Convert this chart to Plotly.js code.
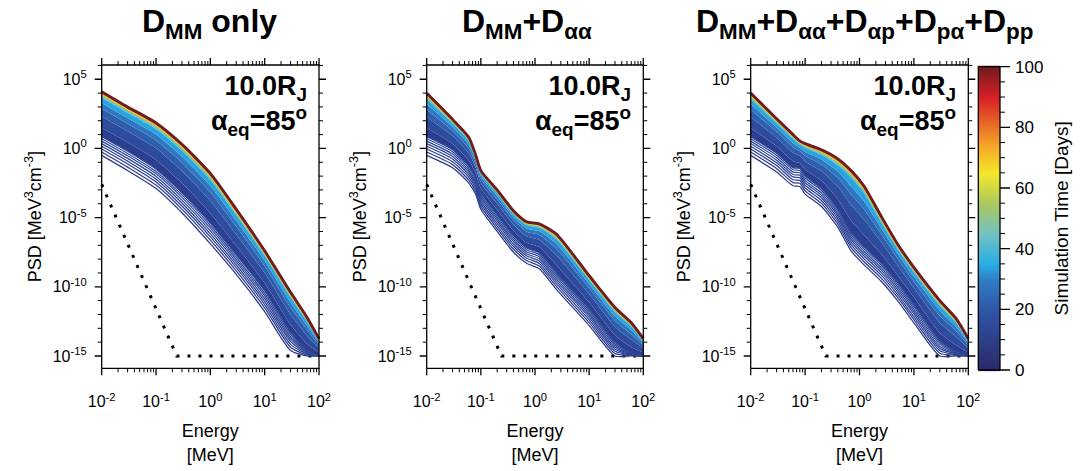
<!DOCTYPE html>
<html><head><meta charset="utf-8">
<script src="https://cdn.plot.ly/plotly-3.0.1.min.js"></script>
<style>html,body{margin:0;padding:0;background:#fff}#chart{width:1088px;height:471px}</style>
</head><body><div id="chart"></div>
<script>
// Simulation day of each plotted curve (rows of the PSD tables below)
const days = [0,1,2,3,4,5,6,7,10,16,22,28,34,42,55,70,85,100];

// Values are log10(PSD [MeV^3 cm^-3])
// Panel 1: D_MM only
const energy1 = [0.01,0.03,0.1,0.3,1,3,10,30,60,100];
const logPsd1 = [
 [-0.5,-1.6,-2.9,-4.65,-6.9,-9.1,-11.8,-14.6,-15,-15],
 [-0.26,-1.35,-2.65,-4.39,-6.63,-8.85,-11.53,-14.37,-14.93,-15],
 [-0.04,-1.12,-2.42,-4.16,-6.39,-8.62,-11.29,-14.16,-14.86,-15],
 [0.16,-0.92,-2.22,-3.94,-6.17,-8.42,-11.07,-13.96,-14.8,-15],
 [0.35,-0.72,-2.02,-3.74,-5.96,-8.22,-10.86,-13.78,-14.75,-15],
 [0.53,-0.53,-1.83,-3.54,-5.76,-8.03,-10.66,-13.61,-14.69,-15],
 [0.70,-0.36,-1.66,-3.36,-5.57,-7.86,-10.47,-13.44,-14.64,-15],
 [0.85,-0.2,-1.5,-3.2,-5.4,-7.7,-10.3,-13.3,-14.6,-15],
 [1.5,0.44,-0.83,-2.5,-4.68,-7.04,-9.72,-12.72,-14.12,-14.75],
 [2.31,1.24,0.01,-1.63,-3.78,-6.22,-9.0,-12.0,-13.52,-14.44],
 [2.86,1.78,0.58,-1.03,-3.17,-5.65,-8.5,-11.5,-13.11,-14.23],
 [3.29,2.2,1.01,-0.58,-2.7,-5.23,-8.13,-11.13,-12.8,-14.06],
 [3.58,2.49,1.31,-0.26,-2.38,-4.93,-7.86,-10.86,-12.58,-13.95],
 [3.74,2.65,1.48,-0.09,-2.2,-4.76,-7.72,-10.72,-12.46,-13.89],
 [3.86,2.76,1.6,0.04,-2.07,-4.65,-7.62,-10.62,-12.38,-13.84],
 [3.95,2.86,1.7,0.14,-1.96,-4.55,-7.53,-10.53,-12.31,-13.81],
 [4.03,2.94,1.78,0.23,-1.87,-4.47,-7.46,-10.46,-12.25,-13.78],
 [4.1,3.0,1.85,0.3,-1.8,-4.4,-7.4,-10.4,-12.2,-13.75]
];

// Panel 2: D_MM + D_aa
const energy2 = [0.01,0.03,0.06,0.08,0.1,0.2,0.4,0.7,1.2,2.5,10,30,60,100];
const logPsd2 = [
 [-0.5,-1.4,-2.5,-3.3,-4.4,-6.0,-7.5,-8.3,-8.7,-10.2,-12.8,-15,-15,-15],
 [-0.26,-1.17,-2.29,-3.09,-4.19,-5.79,-7.29,-8.1,-8.5,-9.99,-12.59,-14.82,-14.96,-15],
 [-0.04,-0.96,-2.09,-2.89,-3.99,-5.59,-7.09,-7.92,-8.31,-9.79,-12.39,-14.66,-14.93,-15],
 [0.16,-0.76,-1.91,-2.71,-3.81,-5.41,-6.91,-7.76,-8.14,-9.61,-12.21,-14.51,-14.9,-15],
 [0.35,-0.58,-1.74,-2.54,-3.64,-5.24,-6.74,-7.61,-7.98,-9.44,-12.04,-14.37,-14.87,-15],
 [0.53,-0.41,-1.58,-2.38,-3.48,-5.08,-6.58,-7.46,-7.82,-9.28,-11.88,-14.24,-14.85,-15],
 [0.70,-0.24,-1.43,-2.23,-3.33,-4.93,-6.43,-7.32,-7.68,-9.13,-11.73,-14.11,-14.82,-15],
 [0.85,-0.1,-1.3,-2.1,-3.2,-4.8,-6.3,-7.2,-7.55,-9.0,-11.6,-14.0,-14.8,-15],
 [1.48,0.34,-0.88,-1.77,-2.88,-4.44,-5.94,-6.82,-7.13,-8.44,-11.12,-13.5,-14.36,-14.75],
 [2.27,0.89,-0.36,-1.36,-2.48,-3.99,-5.49,-6.35,-6.61,-7.74,-10.52,-12.88,-13.81,-14.44],
 [2.8,1.26,0.0,-1.08,-2.21,-3.68,-5.18,-6.02,-6.25,-7.26,-10.11,-12.45,-13.44,-14.23],
 [3.21,1.55,0.27,-0.86,-2.0,-3.45,-4.95,-5.78,-5.98,-6.9,-9.8,-12.13,-13.15,-14.06],
 [3.5,1.75,0.46,-0.71,-1.86,-3.29,-4.79,-5.6,-5.79,-6.65,-9.58,-11.9,-12.95,-13.95],
 [3.65,1.86,0.57,-0.63,-1.78,-3.2,-4.7,-5.51,-5.68,-6.51,-9.46,-11.78,-12.84,-13.89],
 [3.76,1.93,0.64,-0.57,-1.72,-3.14,-4.64,-5.44,-5.61,-6.41,-9.38,-11.69,-12.77,-13.84],
 [3.86,2.0,0.71,-0.52,-1.67,-3.08,-4.58,-5.39,-5.54,-6.33,-9.31,-11.61,-12.7,-13.81],
 [3.94,2.06,0.76,-0.48,-1.63,-3.04,-4.54,-5.34,-5.49,-6.26,-9.25,-11.55,-12.64,-13.78],
 [4.0,2.1,0.8,-0.45,-1.6,-3.0,-4.5,-5.3,-5.45,-6.2,-9.2,-11.5,-12.6,-13.75]
];

// Panel 3: D_MM + D_aa + D_ap + D_pa + D_pp
const energy3 = [0.01,0.03,0.06,0.08,0.1,0.2,0.4,0.7,1.2,2.5,5,10,30,60,100];
const logPsd3 = [
 [-0.5,-1.7,-2.7,-2.75,-3.3,-4.2,-5.7,-7.4,-8.4,-9.6,-11.0,-12.6,-15,-15,-15],
 [-0.26,-1.46,-2.47,-2.52,-3.07,-3.97,-5.47,-7.17,-8.17,-9.37,-10.77,-12.37,-14.8,-14.95,-15],
 [-0.04,-1.24,-2.26,-2.31,-2.86,-3.76,-5.26,-6.96,-7.96,-9.16,-10.56,-12.16,-14.62,-14.9,-15],
 [0.16,-1.04,-2.06,-2.11,-2.66,-3.56,-5.06,-6.76,-7.76,-8.96,-10.36,-11.96,-14.46,-14.85,-15],
 [0.35,-0.85,-1.88,-1.93,-2.48,-3.38,-4.88,-6.58,-7.58,-8.78,-10.18,-11.78,-14.31,-14.81,-15],
 [0.53,-0.67,-1.71,-1.76,-2.31,-3.21,-4.71,-6.41,-7.41,-8.61,-10.01,-11.61,-14.16,-14.77,-15],
 [0.70,-0.5,-1.54,-1.59,-2.14,-3.04,-4.54,-6.24,-7.24,-8.44,-9.84,-11.44,-14.02,-14.73,-15],
 [0.85,-0.35,-1.4,-1.45,-2.0,-2.9,-4.4,-6.1,-7.1,-8.3,-9.7,-11.3,-13.9,-14.7,-15],
 [1.48,0.15,-0.92,-1.05,-1.53,-2.34,-3.67,-5.2,-6.22,-7.62,-9.14,-10.76,-13.32,-14.22,-14.75],
 [2.27,0.77,-0.32,-0.55,-0.94,-1.64,-2.76,-4.08,-5.12,-6.77,-8.44,-10.09,-12.6,-13.62,-14.44],
 [2.8,1.2,0.09,-0.21,-0.54,-1.16,-2.14,-3.31,-4.37,-6.19,-7.96,-9.63,-12.1,-13.21,-14.23],
 [3.21,1.52,0.4,0.05,-0.24,-0.8,-1.66,-2.73,-3.8,-5.75,-7.6,-9.28,-11.73,-12.9,-14.06],
 [3.5,1.73,0.6,0.21,-0.03,-0.55,-1.3,-2.2,-3.3,-5.45,-7.35,-9.03,-11.46,-12.68,-13.95],
 [3.65,1.87,0.73,0.33,0.09,-0.41,-1.13,-2.02,-3.12,-5.27,-7.21,-8.9,-11.32,-12.56,-13.89],
 [3.76,1.96,0.82,0.4,0.17,-0.31,-1.01,-1.89,-2.99,-5.16,-7.11,-8.8,-11.22,-12.48,-13.84],
 [3.86,2.04,0.89,0.46,0.25,-0.22,-0.9,-1.77,-2.87,-5.05,-7.02,-8.72,-11.13,-12.41,-13.81],
 [3.94,2.1,0.95,0.51,0.3,-0.15,-0.82,-1.68,-2.78,-4.97,-6.95,-8.65,-11.06,-12.35,-13.78],
 [4.0,2.15,1.0,0.55,0.35,-0.1,-0.75,-1.6,-2.7,-4.9,-6.9,-8.6,-11.0,-12.3,-13.75]
];

// Dotted reference line (same in all panels)
const dotEnergy = [0.01,0.24,100];
const dotPsd = [2.5e-3,1e-15,1e-15];

// Tick labels
const xTickVals = [0.01,0.1,1,10,100];
const xTickText = ['10<sup>-2</sup>','10<sup>-1</sup>','10<sup>0</sup>','10<sup>1</sup>','10<sup>2</sup>'];
const yTickVals = [1e-15,1e-10,1e-5,1,1e5];
const yTickText = ['10<sup>-15</sup>','10<sup>-10</sup>','10<sup>-5</sup>','10<sup>0</sup>','10<sup>5</sup>'];
const cbTickVals = [0,20,40,60,80,100];   // colour-bar days
const panelTitles = ['<b>D<sub>MM</sub> only</b>','<b>D<sub>MM</sub>+D<sub>αα</sub></b>','<b>D<sub>MM</sub>+D<sub>αα</sub>+D<sub>αp</sub>+D<sub>pα</sub>+D<sub>pp</sub></b>'];
const caseLabel = '<b>10.0R<sub>J</sub><br>α<sub>eq</sub>=85<sup>o</sup></b>';

// ---------------- styling / drawing ----------------
const stops = [[0,'#2b2a6b'],[0.1,'#2d3d8f'],[0.2,'#2f56a7'],[0.3,'#2f7fc6'],[0.35,'#28ade6'],[0.4,'#5cc3dd'],[0.45,'#74c2c3'],[0.5,'#8cc49a'],[0.55,'#aac85e'],[0.6,'#cbd43a'],[0.65,'#f4e82a'],[0.7,'#f7c424'],[0.75,'#f49f27'],[0.8,'#ed6a2b'],[0.85,'#e43327'],[0.9,'#d81f26'],[0.95,'#a81d22'],[1,'#6f1c1e']];
const barScale = [[0,'#2b2a6b'],[0.2,'#2f56a7'],[0.3,'#2f7fc6'],[0.35,'#28ade6'],[0.45,'#74c2c3'],[0.55,'#aac85e'],[0.65,'#f4e82a'],[0.75,'#f49f27'],[0.9,'#d81f26'],[1,'#6f1c1e']];
function hex2rgb(h){return [parseInt(h.slice(1,3),16),parseInt(h.slice(3,5),16),parseInt(h.slice(5,7),16)];}
function cmap(d){
  const t=Math.max(0,Math.min(1,d/100));
  for(let i=1;i<stops.length;i++){
    if(t<=stops[i][0]){
      const a=stops[i-1],b=stops[i];const f=(t-a[0])/(b[0]-a[0]);
      const ca=hex2rgb(a[1]),cb=hex2rgb(b[1]);
      return 'rgb('+ca.map((v,k)=>Math.round(v+(cb[k]-v)*f)).join(',')+')';
    }
  }
  return stops[stops.length-1][1];
}

// page geometry (pixels) of the framed plot boxes
const W=1088,H=471,PAD=10;
const boxX=[[101.7,319],[426.7,643.3],[750.7,968.3]];
const boxTop=65, boxBottom=368.3;
const logYRange=[-15.89,6.03];
const yDecPx=(boxBottom-boxTop)/(logYRange[1]-logYRange[0]);

const panels=[
  {xa:'x',ya:'y',E:energy1,P:logPsd1},
  {xa:'x2',ya:'y2',E:energy2,P:logPsd2},
  {xa:'x3',ya:'y3',E:energy3,P:logPsd3}
];
const traces=[];
panels.forEach(p=>{
  traces.push({type:'scatter',mode:'lines',x:dotEnergy,y:dotPsd,xaxis:p.xa,yaxis:p.ya,
    line:{color:'#000',width:3,dash:'3px,8px'},hoverinfo:'skip',showlegend:false});
  p.P.forEach((row,i)=>{
    const d=days[i];
    const t={type:'scatter',mode:'lines',x:p.E,y:row.map(v=>Math.pow(10,v)),xaxis:p.xa,yaxis:p.ya,
      hoverinfo:'skip',showlegend:false,line:{shape:'spline',smoothing:0.6,color:cmap(d),width:1.3}};
    if(d<=7){ t.line.color=cmap(9+d); t.line.width=1.25; }
    else {
      t.fill='tonexty'; t.fillcolor=cmap(d);
      t.line.width=(d===100?2.8:(d===85?1.6:(d>=34?1.3:0)));
    }
    traces.push(t);
  });
});
// colour bar drawn as a small heatmap of simulation days on its own axes
traces.push({type:'heatmap',x:[0,1],y:cbTickVals,z:cbTickVals.map(v=>[v,v]),xaxis:'x4',yaxis:'y4',
  colorscale:barScale,zmin:0,zmax:100,zsmooth:'best',showscale:false,hoverinfo:'skip'});

const xMinor=[];[0.01,0.1,1,10].forEach(b=>{for(let k=2;k<=9;k++)xMinor.push(b*k);});
const yMinor=[];for(let e=-15;e<=6;e++){if(e%5!==0)yMinor.push(Math.pow(10,e));}

// frame + outward ticks of each panel, drawn on the panel's own axes
function seg(o,x0,x1,y0,y1){o.x.push(x0,x1,null);o.y.push(y0,y1,null);}
boxX.forEach((bx,i)=>{
  const p=panels[i], decPx=(bx[1]-bx[0])/4, f=v=>Math.pow(10,v);
  const X0=0.01,X1=100,Y0=f(logYRange[0]),Y1=f(logYRange[1]);
  const xl=f(7/decPx), xm=f(4/decPx), yl=f(7/yDecPx), ym=f(4/yDecPx);
  const maj={x:[],y:[]}, mnr={x:[],y:[]};
  xTickVals.forEach(v=>{seg(maj,v,v,Y0,Y0/yl);seg(maj,v,v,Y1,Y1*yl);});
  xMinor.forEach(v=>{seg(mnr,v,v,Y0,Y0/ym);seg(mnr,v,v,Y1,Y1*ym);});
  yTickVals.forEach(v=>{seg(maj,X0,X0/xl,v,v);seg(maj,X1,X1*xl,v,v);});
  yMinor.forEach(v=>{seg(mnr,X0,X0/xm,v,v);seg(mnr,X1,X1*xm,v,v);});
  const base={type:'scatter',mode:'lines',xaxis:p.xa,yaxis:p.ya,hoverinfo:'skip',showlegend:false};
  traces.push(Object.assign({},base,{x:[X0,X1,X1,X0,X0],y:[Y0,Y0,Y1,Y1,Y0],line:{color:'#000',width:1.3}}));
  traces.push(Object.assign({},base,{x:maj.x,y:maj.y,line:{color:'#000',width:1.3}}));
  traces.push(Object.assign({},base,{x:mnr.x,y:mnr.y,line:{color:'#000',width:1}}));
});
// colour-bar frame and ticks on an overlay subplot measured in pixels (x) and days (y)
(function(){
  const cb={x:[],y:[]}, cbm={x:[],y:[]};
  cbTickVals.forEach(v=>seg(cb,23.7,33.7,v,v));
  for(let v=5;v<100;v+=5){ if(v%20!==0) seg(cbm,23.7,28.7,v,v); }
  const base={type:'scatter',mode:'lines',xaxis:'x5',yaxis:'y5',hoverinfo:'skip',showlegend:false};
  traces.push(Object.assign({},base,{x:[2,23.7,23.7,2,2],y:[0,0,100,100,0],line:{color:'#000',width:1.3}}));
  traces.push(Object.assign({},base,{x:cb.x,y:cb.y,line:{color:'#000',width:1.3}}));
  traces.push(Object.assign({},base,{x:cbm.x,y:cbm.y,line:{color:'#000',width:1}}));
})();

const yDom=[(H-(boxBottom+PAD))/H,(H-(boxTop-PAD))/H];
const yRange=[logYRange[0]-PAD/yDecPx,logYRange[1]+PAD/yDecPx];
function xax(bx,anchor){const decPx=(bx[1]-bx[0])/4;
  return {type:'log',domain:[(bx[0]-PAD)/W,(bx[1]+PAD)/W],anchor:anchor,range:[-2-PAD/decPx,2+PAD/decPx],
  showline:false,ticks:'',showgrid:false,zeroline:false,
  tickmode:'array',tickvals:xTickVals,ticktext:xTickText,
  tickfont:{size:16},ticklabelstandoff:12,
  title:{text:'Energy<br>[MeV]',font:{size:18},standoff:15}};}
function yax(anchor){return {type:'log',domain:yDom,anchor:anchor,range:yRange,
  showline:false,ticks:'',showgrid:false,zeroline:false,
  tickmode:'array',tickvals:yTickVals,ticktext:yTickText,
  tickfont:{size:16},ticklabelstandoff:4,
  title:{text:'PSD [MeV<sup>3</sup>cm<sup>-3</sup>]',font:{size:18},standoff:6}};}

const titleCenters=[209/W,527/W,864/W];
const annotations=[];
boxX.forEach((bx,i)=>{
  annotations.push({xref:'paper',yref:'paper',x:titleCenters[i],y:(H-24)/H,xanchor:'center',yanchor:'middle',
    text:panelTitles[i],showarrow:false,font:{size:32,color:'#000'}});
  annotations.push({xref:'paper',yref:'paper',x:(bx[1]-10)/W,y:(H-106)/H,xanchor:'right',yanchor:'middle',align:'right',
    text:caseLabel,showarrow:false,font:{size:27,color:'#000'}});
});

const cbPxPerDay=(370-66.7)/100;
const layout={width:W,height:H,margin:{l:0,r:0,t:0,b:0},paper_bgcolor:'#fff',plot_bgcolor:'rgba(0,0,0,0)',
  font:{family:'Liberation Sans, Arial, Helvetica, sans-serif',color:'#000'},showlegend:false,
  xaxis:xax(boxX[0],'y'),yaxis:yax('x'),
  xaxis2:xax(boxX[1],'y2'),yaxis2:yax('x2'),
  xaxis3:xax(boxX[2],'y3'),yaxis3:yax('x3'),
  xaxis4:{domain:[978.3/W,1000/W],anchor:'y4',range:[0,1],showticklabels:false,showline:false,ticks:'',showgrid:false,zeroline:false},
  yaxis4:{domain:[(H-371.2)/H,(H-65.5)/H],anchor:'x4',side:'right',range:[-0.4,100.4],showline:false,ticks:'',showgrid:false,zeroline:false,
    tickmode:'array',tickvals:cbTickVals,tickfont:{size:17},ticklabelstandoff:14,
    title:{text:'Simulation Time [Days]',font:{size:19},standoff:12}},
  xaxis5:{domain:[976.3/W,1016.3/W],anchor:'y5',range:[0,40],visible:false},
  yaxis5:{domain:[(H-372.7)/H,(H-64)/H],anchor:'x5',range:[-2.7/cbPxPerDay,100+2.7/cbPxPerDay],visible:false},
  annotations:annotations};
Plotly.newPlot('chart',traces,layout,{displayModeBar:false,staticPlot:true});
</script></body></html>
